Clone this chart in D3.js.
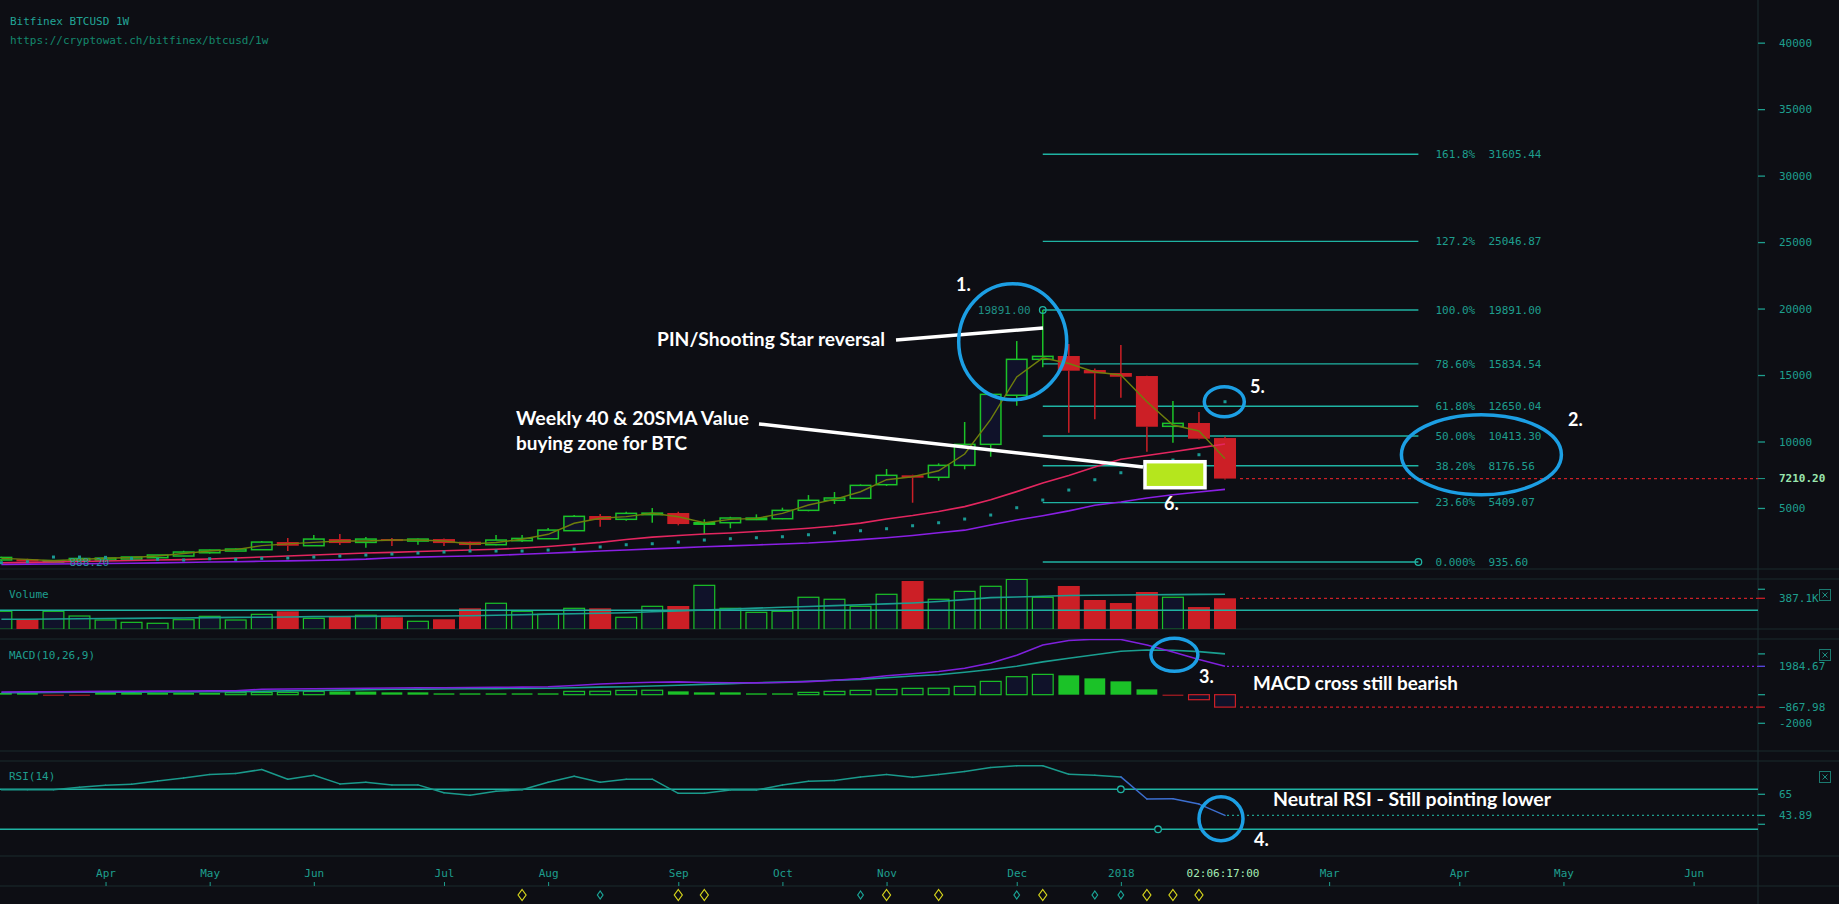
<!DOCTYPE html>
<html>
<head>
<meta charset="utf-8">
<title>Bitfinex BTCUSD 1W</title>
<script src="https://cdn.jsdelivr.net/npm/d3@7/dist/d3.min.js"></script>
<style>
  html, body { margin: 0; padding: 0; background: #0d0e14; overflow: hidden; }
  svg { display: block; }
  text { font-family: "DejaVu Sans Mono", monospace; font-size: 11px; }
  .note { font-family: Lato, "Open Sans", sans-serif; font-weight: 700; fill: #ffffff; font-size: 18px; }
</style>
</head>
<body>
<svg id="chart" width="1839" height="904"></svg>
<script>
// weekly candles (Bitfinex week opens on Thursday)
var weeks = ["2017-03-09","2017-03-16","2017-03-23","2017-03-30","2017-04-06","2017-04-13","2017-04-20","2017-04-27",
  "2017-05-04","2017-05-11","2017-05-18","2017-05-25","2017-06-01","2017-06-08","2017-06-15","2017-06-22","2017-06-29",
  "2017-07-06","2017-07-13","2017-07-20","2017-07-27","2017-08-03","2017-08-10","2017-08-17","2017-08-24","2017-08-31",
  "2017-09-07","2017-09-14","2017-09-21","2017-09-28","2017-10-05","2017-10-12","2017-10-19","2017-10-26","2017-11-02",
  "2017-11-09","2017-11-16","2017-11-23","2017-11-30","2017-12-07","2017-12-14","2017-12-21","2017-12-28","2018-01-04",
  "2018-01-11","2018-01-18","2018-01-25","2018-02-01"];
var open = [1090,1140,985,1020,1090,1160,1260,1385,1630,1760,1860,2435,2160,2660,2410,2660,2510,2660,2460,2235,2535,2685,3290,4395,
  4145,4580,4620,3800,3890,4200,4190,4820,5575,5725,6750,7455,7305,8205,9785,13480,16180,16430,15375,15150,14925,11140,11390,10260];
var high = [1330,1180,1060,1230,1260,1330,1470,1780,1860,1950,2510,2735,2960,3035,2810,2735,2700,2700,2500,2960,2960,3490,4480,4545,
  4716,4995,4716,4150,4340,4520,5020,5972,6200,6775,7930,7500,8357,11465,13600,17555,19891,17330,15500,17255,14950,13045,12215,10360];
var low = [1000,960,888.2,1000,1070,1140,1240,1370,1560,1730,1840,1760,2140,2210,2010,2135,2240,2135,1890,2200,2440,2680,3270,3590,
  4040,3890,3693,3040,3470,4090,4150,4750,5296,5670,6650,5395,7050,7905,8853,12690,15580,10660,11665,13290,9230,9905,10150,7150];
var close = [1280,985,1040,1200,1230,1310,1460,1685,1835,1910,2435,2160,2660,2360,2660,2510,2660,2360,2210,2585,2710,3335,4370,4095,
  4595,4610,3790,3890,4245,4240,4820,5575,5750,6700,7455,7280,8205,9785,13545,16180,16405,15325,15125,14870,11110,11365,10210,7210.2];

// overlays
var sma2 = [1210,1135,1030,1120,1215,1270,1385,1570,1760,1870,2170,2300,2410,2510,2510,2585,2585,2510,2285,2400,2650,3020,3850,4230,
  4345,4600,4340,3890,4145,4220,4595,5220,5650,6220,7125,7350,7800,9056,11665,14860,16290,15865,15225,15000,12990,11240,10790,8710];
var sma20 = [880,910,930,970,1010,1045,1085,1115,1160,1235,1310,1385,1460,1535,1610,1660,1720,1780,1835,1890,1985,2100,2250,2415,
  2625,2810,2925,3045,3120,3230,3340,3480,3640,3860,4170,4430,4740,5100,5620,6230,6880,7450,8080,8670,8950,9230,9520,9810];
var sma40 = [760,775,790,805,820,845,870,900,930,960,990,1020,1045,1095,1150,1255,1300,1345,1390,1435,1515,1595,1680,1760,
  1840,1920,2000,2085,2150,2220,2290,2360,2480,2620,2760,2930,3130,3330,3720,4090,4420,4780,5200,5450,5750,6000,6200,6400];
var sar = [880,955,1309,1309,1286,1196,1136,1083,1181,1136,1211,1234,1309,1384,1459,1534,1610,1685,1760,1760,1760,1835,1911,2069,
  2234,2309,2437,2588,2685,2761,2836,2986,3137,3287,3438,3663,3889,4167,4468,5017,5596,6349,7123,7650,8154,8605,9004,12990];

// volume (BTC) and its average
var volume = [225,125,225,166,116,87,75,120,162,116,187,225,137,162,175,150,100,125,262,325,225,187,262,262,
  150,287,291,549,262,212,225,400,375,287,437,603,375,474,537,624,400,541,366,328,466,400,278,387.1];
var volumeAvg = [125,126,129,131,135,137,140,142,146,149,151,154,158,160,161,164,166,167,170,176,182,189,195,201,
  207,219,230,241,252,264,275,285,296,307,317,329,347,371,395,403,413,422,425,428,431,433,436,437];
var volumeLevel = 237;

// MACD(10,26,9)
var macd = [189,196,203,217,231,238,252,259,266,280,377,398,419,433,454,468,482,489,503,517,531,552,643,748,
  818,874,895,853,832,825,853,916,1007,1125,1328,1468,1622,1845,2216,2761,3474,3789,3873,3858,3474,2985,2453,1984.67];
var signal = [140,147,154,168,175,182,189,196,203,210,238,266,294,322,350,377,391,398,412,426,440,454,489,531,
  552,608,664,720,776,832,881,944,1007,1069,1188,1307,1391,1566,1761,1985,2293,2551,2789,3041,3125,3104,3013,2852.65];
var hist = [117,117,-20,-20,117,117,117,117,117,140,150,163,233,225,215,163,163,93,93,93,93,93,233,240,
  303,310,233,163,163,93,93,163,233,303,373,443,450,583,932,1258,1421,1351,1142,932,373,-40,-350,-867.98];

// RSI(14)
var rsi = [69.6,69.6,69.6,72.0,74.0,75.0,78.4,81.4,84.8,85.8,89.8,80.1,84.1,75.4,77.1,74.4,74.4,66.6,64.0,68.0,69.6,77.1,83.1,77.1,
  80.1,80.1,66.0,66.0,69.3,69.3,74.4,78.1,78.7,82.4,84.8,82.1,84.8,87.8,91.8,93.5,93.5,85.1,84.1,82.4,60.3,60.6,55.2,43.89];
var rsiLevels = [70, 30];
var rsiHandles = [["2018-01-04", 70], ["2018-01-14", 30]];

// fibonacci retracement drawn from the 19891 top
var fibPct = ["161.8%","127.2%","100.0%","78.60%","61.80%","50.00%","38.20%","23.60%","0.000%"];
var fibVal = [31605.44,25046.87,19891.00,15834.54,12650.04,10413.30,8176.56,5409.07,935.60];
var fibFrom = "2017-12-14", fibTo = "2018-03-25";

// axes
var priceTicks = [5000,10000,15000,20000,25000,30000,35000,40000];
var tickDates = ["2017-04-06","2017-05-04","2017-06-01","2017-07-06","2017-08-03","2017-09-07","2017-10-05","2017-11-02",
  "2017-12-07","2018-01-04","2018-03-01","2018-04-05","2018-05-03","2018-06-07"];
var tickLabels = ["Apr","May","Jun","Jul","Aug","Sep","Oct","Nov","Dec","2018","Mar","Apr","May","Jun"];
var countdown = "02:06:17:00";
var eventsMajor = ["2017-07-27","2017-09-07","2017-09-14","2017-11-02","2017-11-16","2017-12-14","2018-01-11","2018-01-18","2018-01-25"];
var eventsMinor = ["2017-08-17","2017-10-26","2017-12-07","2017-12-28","2018-01-04"];

var parse = d3.utcParse("%Y-%m-%d");
var svg = d3.select("#chart");
var axisX = 1758;
var teal = "#1e9e8e", tealLine = "#1fb3a3", up = "#1bc228", down = "#cc1f26",
    hollow = "#10122a", grid = "#1a2b2d", blue = "#1c9fe4";
var N = weeks.length;
var idx = d3.range(N);

var x = d3.scaleUtc().domain([parse(weeks[0]), parse(weeks[N - 1])]).range([1.4, 1225]);
function xi(i) { return x(parse(weeks[i])); }
var bw = 22;

var yP = d3.scaleLinear().domain([935.6, 19891]).range([562, 310]);
var yV = d3.scaleLinear().domain([0, 387.1]).range([629.3, 598.3]);
var yM = d3.scaleLinear().domain([-2000, 1984.67]).range([723.3, 666.3]);
var yR = d3.scaleLinear().domain([30, 70]).range([829.3, 789.3]);

var defs = svg.append("defs");
function panel(id, y0, y1) {
    defs.append("clipPath").attr("id", id).append("rect")
        .attr("x", 0).attr("y", y0).attr("width", axisX).attr("height", y1 - y0);
    return svg.append("g").attr("clip-path", "url(#" + id + ")");
}

// panel frames
[569, 579, 629, 639, 751, 761, 856, 886].forEach(function (y) {
    svg.append("line").attr("x1", 0).attr("x2", 1839).attr("y1", y).attr("y2", y)
        .attr("stroke", grid).attr("stroke-width", 1.2);
});
svg.append("line").attr("x1", axisX).attr("x2", axisX).attr("y1", 0).attr("y2", 904)
    .attr("stroke", grid).attr("stroke-width", 1.2);

svg.append("text").attr("x", 10).attr("y", 25).attr("fill", "#22a597").text("Bitfinex BTCUSD 1W");
svg.append("text").attr("x", 10).attr("y", 44).attr("fill", "#14876c").text("https://cryptowat.ch/bitfinex/btcusd/1w");

/* ---------- price panel ---------- */
var price = panel("clipPrice", 0, 569);
var fx0 = x(parse(fibFrom)), fx1 = x(parse(fibTo));
fibVal.forEach(function (v, k) {
    price.append("line").attr("x1", fx0).attr("x2", fx1).attr("y1", yP(v)).attr("y2", yP(v))
        .attr("stroke", tealLine).attr("stroke-width", 1.3);
    price.append("text").attr("x", fx1 + 17).attr("y", yP(v)).attr("dy", "0.35em").attr("fill", teal).text(fibPct[k]);
    price.append("text").attr("x", fx1 + 70).attr("y", yP(v)).attr("dy", "0.35em").attr("fill", teal)
        .text(d3.format(".2f")(v));
});
price.append("circle").attr("cx", fx1).attr("cy", yP(fibVal[8])).attr("r", 3.3)
    .attr("fill", "none").attr("stroke", tealLine).attr("stroke-width", 1.3);

var candles = price.append("g").selectAll("g").data(idx).enter().append("g");
candles.each(function (i) {
    var g = d3.select(this), cx = xi(i), isUp = close[i] >= open[i];
    var col = isUp ? up : down;
    var top = yP(Math.max(open[i], close[i])), bot = yP(Math.min(open[i], close[i]));
    if (bot - top < 1.5) { bot = top + 1.5; }
    g.append("line").attr("x1", cx).attr("x2", cx).attr("y1", yP(high[i])).attr("y2", top)
        .attr("stroke", col).attr("stroke-width", 1.5);
    g.append("line").attr("x1", cx).attr("x2", cx).attr("y1", bot).attr("y2", yP(low[i]))
        .attr("stroke", col).attr("stroke-width", 1.5);
    if (isUp) {
        g.append("rect").attr("x", cx - bw / 2 + 0.75).attr("y", top).attr("width", bw - 1.5).attr("height", bot - top)
            .attr("fill", hollow).attr("stroke", col).attr("stroke-width", 1.5);
    } else {
        g.append("rect").attr("x", cx - bw / 2).attr("y", top).attr("width", bw).attr("height", bot - top).attr("fill", col);
    }
});

function drawLine(g, values, scale, color, width) {
    g.append("path").datum(idx)
        .attr("d", d3.line().x(xi).y(function (i) { return scale(values[i]); }))
        .attr("fill", "none").attr("stroke", color).attr("stroke-width", width);
}
drawLine(price, sma40, yP, "#8a1fe4", 1.6);
drawLine(price, sma20, yP, "#e3265f", 1.6);
drawLine(price, sma2, yP, "#6f7e0c", 1.4);

price.append("g").selectAll("rect").data(idx).enter().append("rect")
    .attr("x", function (i) { return xi(i) - 1.5; })
    .attr("y", function (i) { return yP(sar[i]) - 1.5; })
    .attr("width", 3).attr("height", 3).attr("fill", "#1a9a94");

// extremes
var hiI = high.indexOf(d3.max(high)), loI = low.indexOf(d3.min(low));
price.append("circle").attr("cx", xi(hiI)).attr("cy", yP(high[hiI])).attr("r", 3.3)
    .attr("fill", "none").attr("stroke", tealLine).attr("stroke-width", 1.3);
price.append("text").attr("x", xi(hiI) - 12).attr("y", yP(high[hiI])).attr("dy", "0.35em")
    .attr("text-anchor", "end").attr("fill", "#1f8f84").text(d3.format(".2f")(high[hiI]));
price.append("text").attr("x", xi(loI) + 16).attr("y", yP(low[loI])).attr("dy", "0.35em")
    .attr("fill", "#2b8f9f").text(d3.format(".2f")(low[loI]));

var last = close[N - 1];
price.append("line").attr("x1", xi(N - 1) + bw / 2 + 4).attr("x2", axisX).attr("y1", yP(last)).attr("y2", yP(last))
    .attr("stroke", down).attr("stroke-dasharray", "3,3").attr("stroke-width", 1.2);

var pAxis = svg.append("g").attr("transform", "translate(" + axisX + ",0)")
    .call(d3.axisRight(yP).tickValues(priceTicks).tickSize(7).tickPadding(14).tickFormat(d3.format("d")));
pAxis.select(".domain").remove();
pAxis.attr("font-family", "DejaVu Sans Mono").attr("font-size", 11);
pAxis.selectAll("line").attr("stroke", teal).attr("stroke-width", 1.3);
pAxis.selectAll("text").attr("fill", teal);
svg.append("line").attr("x1", axisX).attr("x2", axisX + 7).attr("y1", yP(last)).attr("y2", yP(last)).attr("stroke", teal);
svg.append("text").attr("x", axisX + 21).attr("y", yP(last)).attr("dy", "0.35em").attr("fill", "#9ae6ae")
    .attr("font-weight", "bold").text(d3.format(".2f")(last));

/* ---------- volume ---------- */
var vol = panel("clipVol", 579, 629);
vol.append("g").selectAll("rect").data(idx).enter().append("rect")
    .attr("x", function (i) { return close[i] >= open[i] ? xi(i) - bw / 2 + 0.6 : xi(i) - bw / 2; })
    .attr("y", function (i) { return yV(volume[i]); })
    .attr("width", function (i) { return close[i] >= open[i] ? bw - 1.2 : bw; })
    .attr("height", function (i) { return yV(0) - yV(volume[i]); })
    .attr("fill", function (i) { return close[i] >= open[i] ? hollow : down; })
    .attr("stroke", function (i) { return close[i] >= open[i] ? up : "none"; })
    .attr("stroke-width", 1.2);
vol.append("line").attr("x1", 0).attr("x2", axisX).attr("y1", yV(volumeLevel)).attr("y2", yV(volumeLevel))
    .attr("stroke", tealLine).attr("stroke-width", 1.6);
drawLine(vol, volumeAvg, yV, "#1a9e90", 1.6);
vol.append("line").attr("x1", xi(N - 1) + bw / 2 + 4).attr("x2", axisX)
    .attr("y1", yV(volume[N - 1])).attr("y2", yV(volume[N - 1]))
    .attr("stroke", down).attr("stroke-dasharray", "3,3").attr("stroke-width", 1.2);
svg.append("text").attr("x", 9).attr("y", 598).attr("fill", teal).text("Volume");

/* ---------- MACD ---------- */
var mac = panel("clipMacd", 639, 751);
mac.append("g").selectAll("rect").data(idx).enter().append("rect")
    .attr("x", function (i) { return xi(i) - bw / 2 + 0.6; })
    .attr("y", function (i) { return Math.min(yM(0), yM(hist[i])); })
    .attr("width", bw - 1.2)
    .attr("height", function (i) { return Math.max(1, Math.abs(yM(hist[i]) - yM(0))); })
    .each(function (i) {
        var v = hist[i], p = i > 0 ? hist[i - 1] : 0;
        var col = v >= 0 ? up : down;
        var growing = (v > 0 && p > 0 && v > p) || (v < 0 && p < 0 && v < p);
        d3.select(this).attr("fill", growing ? hollow : col)
            .attr("stroke", growing ? col : "none").attr("stroke-width", 1.2);
    });
drawLine(mac, signal, yM, "#1a9e90", 1.6);
drawLine(mac, macd, yM, "#7f20dc", 1.6);
mac.append("line").attr("x1", xi(N - 1) + 2).attr("x2", axisX).attr("y1", yM(macd[N - 1])).attr("y2", yM(macd[N - 1]))
    .attr("stroke", "#7f20dc").attr("stroke-dasharray", "2,3").attr("stroke-width", 1.2);
mac.append("line").attr("x1", xi(N - 1) + bw / 2 + 4).attr("x2", axisX).attr("y1", yM(hist[N - 1])).attr("y2", yM(hist[N - 1]))
    .attr("stroke", down).attr("stroke-dasharray", "3,3").attr("stroke-width", 1.2);
svg.append("text").attr("x", 9).attr("y", 659).attr("fill", teal).text("MACD(10,26,9)");

/* ---------- RSI ---------- */
var rs = panel("clipRsi", 761, 856);
rsiLevels.forEach(function (v) {
    rs.append("line").attr("x1", 0).attr("x2", axisX).attr("y1", yR(v)).attr("y2", yR(v))
        .attr("stroke", tealLine).attr("stroke-width", 1.4);
});
idx.slice(1).forEach(function (i) {
    rs.append("line").attr("x1", xi(i - 1)).attr("x2", xi(i)).attr("y1", yR(rsi[i - 1])).attr("y2", yR(rsi[i]))
        .attr("stroke", rsi[i] < 62 ? "#3c6fd0" : "#1a9a8c").attr("stroke-width", 1.5).attr("stroke-linecap", "round");
});
rs.append("line").attr("x1", xi(N - 1) + 2).attr("x2", axisX).attr("y1", yR(rsi[N - 1])).attr("y2", yR(rsi[N - 1]))
    .attr("stroke", teal).attr("stroke-dasharray", "2,3").attr("stroke-width", 1.2);
rsiHandles.forEach(function (h) {
    rs.append("circle").attr("cx", x(parse(h[0]))).attr("cy", yR(h[1])).attr("r", 3.3)
        .attr("fill", "#0d0e14").attr("stroke", tealLine).attr("stroke-width", 1.3);
});
svg.append("text").attr("x", 9).attr("y", 780).attr("fill", teal).text("RSI(14)");

/* ---------- lower axes ---------- */
function mark(y, color) {
    svg.append("line").attr("x1", axisX).attr("x2", axisX + 7).attr("y1", y).attr("y2", y)
        .attr("stroke", color).attr("stroke-width", 1.3);
}
function label(y, txt) {
    svg.append("text").attr("x", axisX + 21).attr("y", y).attr("dy", "0.35em").attr("fill", teal).text(txt);
}
mark(yV(500), teal); mark(yV(volume[N - 1]), down);
label(yV(volume[N - 1]), d3.format(".1f")(volume[N - 1]) + "K");
mark(yM(signal[N - 1]), teal); mark(yM(macd[N - 1]), "#5b48e6"); mark(yM(0), teal);
mark(yM(hist[N - 1]), down); mark(yM(-2000), teal);
label(yM(macd[N - 1]), d3.format(".2f")(macd[N - 1]));
label(yM(hist[N - 1]), d3.format(".2f")(hist[N - 1]));
label(yM(-2000), "-2000");
mark(yR(65), teal); mark(yR(rsi[N - 1]), teal); mark(yR(35), teal);
label(yR(65), "65");
label(yR(rsi[N - 1]), d3.format(".2f")(rsi[N - 1]));

[595, 655, 777].forEach(function (cy) {
    var b = svg.append("g").attr("transform", "translate(1825," + cy + ")");
    b.append("rect").attr("x", -5.5).attr("y", -5.5).attr("width", 11).attr("height", 11)
        .attr("fill", "none").attr("stroke", "#1c7a70").attr("stroke-width", 1);
    b.append("path").attr("d", "M-2.5,-2.5L2.5,2.5M2.5,-2.5L-2.5,2.5").attr("stroke", "#1c8a7e").attr("stroke-width", 1);
});

var tAxis = svg.append("g").attr("transform", "translate(0,886)")
    .call(d3.axisTop(x).tickValues(tickDates.map(parse)).tickSize(4).tickPadding(5)
        .tickFormat(function (d, k) { return tickLabels[k]; }));
tAxis.select(".domain").remove();
tAxis.attr("font-family", "DejaVu Sans Mono").attr("font-size", 11);
tAxis.selectAll("line").attr("stroke", teal);
tAxis.selectAll("text").attr("fill", teal);
svg.append("text").attr("x", xi(N - 1) - 2).attr("y", 877).attr("text-anchor", "middle")
    .attr("fill", "#a6ecb6").text(countdown);

function diamond(w, h) { return "M0," + (-h) + "L" + w + ",0L0," + h + "L" + (-w) + ",0Z"; }
eventsMajor.forEach(function (d) {
    svg.append("path").attr("transform", "translate(" + x(parse(d)) + ",895)").attr("d", diamond(4, 5.5))
        .attr("fill", "none").attr("stroke", "#d7d51c").attr("stroke-width", 1.2);
});
eventsMinor.forEach(function (d) {
    svg.append("path").attr("transform", "translate(" + x(parse(d)) + ",895)").attr("d", diamond(2.8, 4))
        .attr("fill", "none").attr("stroke", "#1aa597").attr("stroke-width", 1.2);
});

/* ---------- hand drawn notes ---------- */
var notes = svg.append("g");
notes.append("line").attr("x1", 759).attr("y1", 424).attr("x2", 1143).attr("y2", 467)
    .attr("stroke", "#fff").attr("stroke-width", 3.5);
notes.append("line").attr("x1", 896).attr("y1", 340).attr("x2", 1043).attr("y2", 328)
    .attr("stroke", "#fff").attr("stroke-width", 3.5);
notes.append("rect").attr("x", 1145).attr("y", 461.7).attr("width", 60).attr("height", 26)
    .attr("fill", "#b5e61d").attr("stroke", "#fff").attr("stroke-width", 3.5);
[[1012.7, 341.7, 54, 58], [1481.4, 454.7, 80, 40], [1174.4, 654.8, 23.5, 16.5], [1221, 818.7, 22, 22], [1224.3, 401.7, 20, 15]]
    .forEach(function (e) {
        notes.append("ellipse").attr("cx", e[0]).attr("cy", e[1]).attr("rx", e[2]).attr("ry", e[3])
            .attr("fill", "none").attr("stroke", blue).attr("stroke-width", 3.5);
    });
[["PIN/Shooting Star reversal", 657, 346, 228], ["Weekly 40 & 20SMA Value", 516, 425, 233], ["buying zone for BTC", 516, 450, 171],
 ["MACD cross still bearish", 1253, 690, 205], ["Neutral RSI - Still pointing lower", 1273, 806, 278],
 ["1.", 956, 291], ["2.", 1568, 426], ["3.", 1199, 683], ["4.", 1254, 846], ["5.", 1250, 393], ["6.", 1164, 510]]
    .forEach(function (t) {
        var n = notes.append("text").attr("class", "note").attr("x", t[1]).attr("y", t[2]).text(t[0]);
        if (t[3]) { n.attr("textLength", t[3]).attr("lengthAdjust", "spacingAndGlyphs"); }
    });
</script>
</body>
</html>
